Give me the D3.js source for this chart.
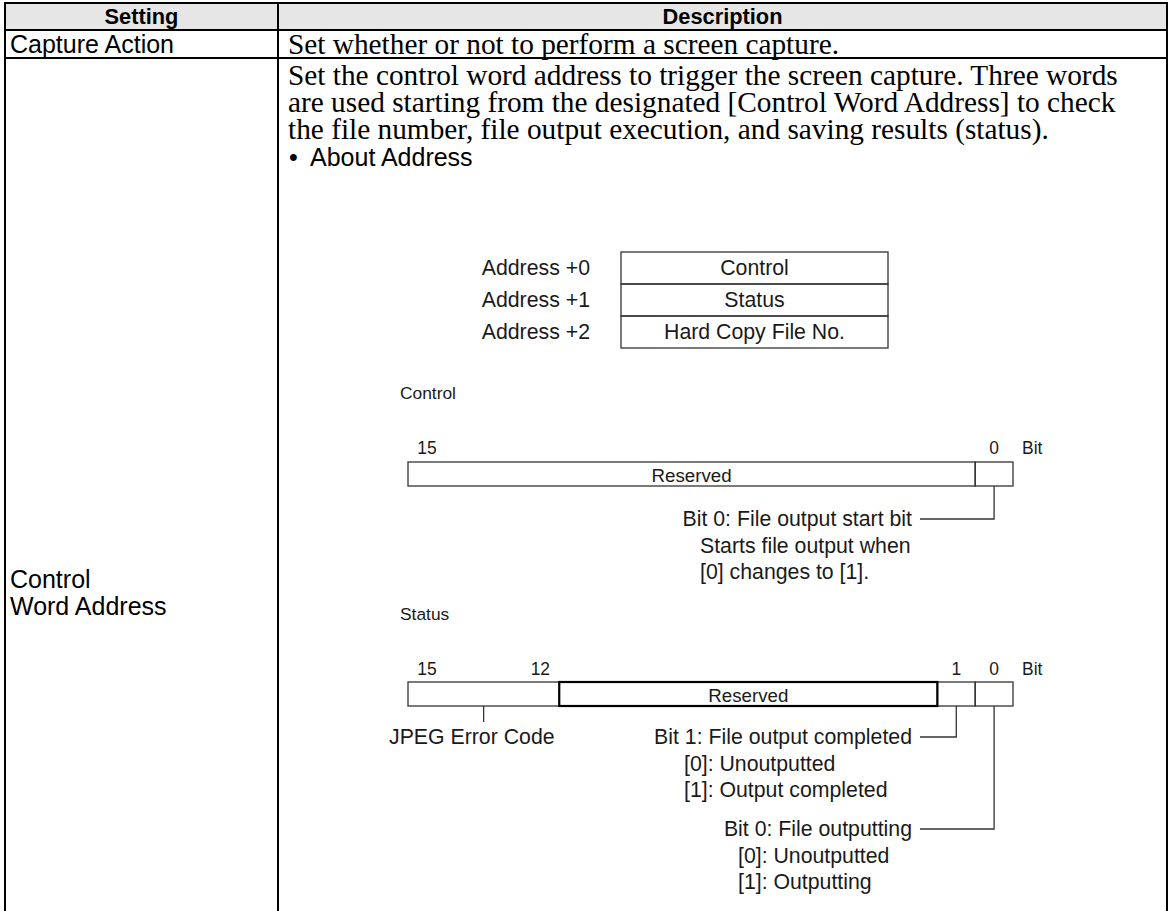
<!DOCTYPE html>
<html><head><meta charset="utf-8">
<script src="https://cdn.jsdelivr.net/npm/d3@7"></script>
<style>html,body{margin:0;padding:0;background:#fff;}svg{display:block;}</style>
</head><body>
<script>
// ---- data ----
const columns = ["Setting", "Description"];
const settings = [["Capture Action"], ["Control", "Word Address"]];
const captureDesc = ["Set whether or not to perform a screen capture."];
const controlWordDesc = [
  "Set the control word address to trigger the screen capture. Three words",
  "are used starting from the designated [Control Word Address] to check",
  "the file number, file output execution, and saving results (status)."
];
const bulletText = "About Address";
const addressLabels = ["Address +0", "Address +1", "Address +2"];
const addressWords = ["Control", "Status", "Hard Copy File No."];
const bitTicksControl = [15, 0];
const bitTicksStatus = [15, 12, 1, 0];
const controlFields = [{hi: 15, lo: 1, label: "Reserved"}, {hi: 0, lo: 0, label: ""}];
const statusFields = [{hi: 15, lo: 12, label: ""}, {hi: 11, lo: 2, label: "Reserved", strong: true}, {hi: 1, lo: 1, label: ""}, {hi: 0, lo: 0, label: ""}];
const controlNotes = [{bit: 0, title: "Bit 0: File output start bit", lines: ["Starts file output when", "[0] changes to [1]."]}];
const statusNotes = [
  {bit: 1, title: "Bit 1: File output completed", lines: ["[0]: Unoutputted", "[1]: Output completed"]},
  {bit: 0, title: "Bit 0: File outputting", lines: ["[0]: Unoutputted", "[1]: Outputting"]}
];
const jpegLabel = "JPEG Error Code";

// ---- setup ----
const W = 1172, H = 911;
const SANS = "'Liberation Sans', Arial, Helvetica, sans-serif";
const SERIF = "'Liberation Serif', 'Times New Roman', serif";
const svg = d3.select("body").append("svg").attr("width", W).attr("height", H);

function fit(str, family, weight, target) {
  const t = svg.append("text").attr("font-family", family).attr("font-weight", weight).attr("font-size", 100).text(str);
  const w = t.node().getComputedTextLength();
  t.remove();
  return 100 * target / w;
}
const headSize = fit("Description", SANS, "bold", 120);
const leftSize = fit("Capture Action", SANS, "normal", 164);
const serifSize = fit(controlWordDesc[0], SERIF, "normal", 830);
const diagSize = fit("Bit 1: File output completed", SANS, "normal", 258);
const secSize = fit("Control", SANS, "normal", 56);

// table geometry
const xL = 5, xDiv = 278, xR = 1167;
const yTop = 3, yHead = 30, yRow2 = 58;

svg.append("rect").attr("x", xL).attr("y", yTop).attr("width", xR - xL).attr("height", yHead - yTop).attr("fill", "#e6e6e6");

const lines = svg.append("g").attr("stroke", "#000").attr("stroke-width", 2).attr("fill", "none");
[[xL, yTop, xR, yTop], [xL, yHead, xR, yHead], [xL, yRow2, xR, yRow2],
 [xL, yTop - 1, xL, H + 2], [xDiv, yTop, xDiv, H + 2], [xR, yTop - 1, xR, H + 2]]
  .forEach(d => lines.append("line").attr("x1", d[0]).attr("y1", d[1]).attr("x2", d[2]).attr("y2", d[3]));

// header
const colCenters = [(xL + xDiv) / 2, (xDiv + xR) / 2];
svg.selectAll("text.head").data(columns).join("text").attr("class", "head")
  .attr("x", (d, i) => colCenters[i]).attr("y", (yTop + yHead) / 2)
  .attr("text-anchor", "middle").attr("dominant-baseline", "central")
  .attr("font-family", SANS).attr("font-weight", "bold").attr("font-size", headSize).text(d => d);

// left column
const leftYs = [[(yHead + yRow2) / 2], [579, 606]];
settings.forEach((arr, i) => arr.forEach((s, j) => {
  svg.append("text").attr("x", 10).attr("y", leftYs[i][j]).attr("dominant-baseline", "central")
    .attr("font-family", SANS).attr("font-size", leftSize).text(s);
}));

// descriptions
svg.append("text").attr("x", 288).attr("y", (yHead + yRow2) / 2).attr("dominant-baseline", "central")
  .attr("font-family", SERIF).attr("font-size", serifSize).text(captureDesc[0]);
const descY = d3.scaleLinear().domain([0, 1]).range([75, 102]);
svg.selectAll("text.desc").data(controlWordDesc).join("text").attr("class", "desc")
  .attr("x", 288).attr("y", (d, i) => descY(i)).attr("dominant-baseline", "central")
  .attr("font-family", SERIF).attr("font-size", serifSize).text(d => d);
svg.append("text").attr("x", 289).attr("y", descY(3) + 1).attr("dominant-baseline", "central")
  .attr("font-family", SANS).attr("font-size", leftSize).text("\u2022");
svg.append("text").attr("x", 310).attr("y", descY(3) + 1).attr("dominant-baseline", "central")
  .attr("font-family", SANS).attr("font-size", leftSize).text(bulletText);

// address table
const addrY = d3.scaleBand().domain(addressLabels).range([252, 348]);
const ink = "#1a1a1a";
svg.selectAll("text.alab").data(addressLabels).join("text").attr("class", "alab")
  .attr("x", 590).attr("y", d => addrY(d) + addrY.bandwidth() / 2).attr("text-anchor", "end").attr("dominant-baseline", "central")
  .attr("font-family", SANS).attr("font-size", diagSize).attr("fill", ink).text(d => d);
svg.selectAll("rect.abox").data(addressLabels).join("rect").attr("class", "abox")
  .attr("x", 621).attr("y", d => addrY(d)).attr("width", 888 - 621).attr("height", addrY.bandwidth())
  .attr("fill", "none").attr("stroke", "#333").attr("stroke-width", 1.3);
svg.selectAll("text.aword").data(addressWords).join("text").attr("class", "aword")
  .attr("x", (621 + 888) / 2).attr("y", (d, i) => addrY(addressLabels[i]) + addrY.bandwidth() / 2)
  .attr("text-anchor", "middle").attr("dominant-baseline", "central")
  .attr("font-family", SANS).attr("font-size", diagSize).attr("fill", ink).text(d => d);

// bit diagrams
const bx = d3.scaleLinear().domain([16, 0]).range([408, 1013]);
const bitCenter = b => (bx(b + 1) + bx(b)) / 2;

function register(title, titleY, ticks, tickY, fields, boxTop, notes, noteYs, jpeg) {
  const g = svg.append("g");
  g.append("text").attr("x", 400).attr("y", titleY).attr("dominant-baseline", "central")
    .attr("font-family", SANS).attr("font-size", secSize).attr("fill", ink).text(title);
  g.selectAll("text.tick").data(ticks).join("text").attr("class", "tick")
    .attr("x", d => bitCenter(d)).attr("y", tickY).attr("text-anchor", "middle").attr("dominant-baseline", "central")
    .attr("font-family", SANS).attr("font-size", diagSize * 0.82).attr("fill", ink).text(d => d);
  g.append("text").attr("x", 1022).attr("y", tickY).attr("dominant-baseline", "central")
    .attr("font-family", SANS).attr("font-size", diagSize * 0.82).attr("fill", ink).text("Bit");
  const bh = 24;
  g.selectAll("rect.f").data(fields.filter(f => !f.strong)).join("rect").attr("class", "f")
    .attr("x", d => bx(d.hi + 1)).attr("y", boxTop).attr("width", d => bx(d.lo) - bx(d.hi + 1)).attr("height", bh)
    .attr("fill", "none").attr("stroke", "#333").attr("stroke-width", 1.3);
  g.selectAll("rect.fs").data(fields.filter(f => f.strong)).join("rect").attr("class", "fs")
    .attr("x", d => bx(d.hi + 1)).attr("y", boxTop).attr("width", d => bx(d.lo) - bx(d.hi + 1)).attr("height", bh)
    .attr("fill", "none").attr("stroke", "#000").attr("stroke-width", 2.2);
  g.selectAll("text.fl").data(fields.filter(f => f.label)).join("text").attr("class", "fl")
    .attr("x", d => (bx(d.hi + 1) + bx(d.lo)) / 2).attr("y", boxTop + bh / 2 + 1)
    .attr("text-anchor", "middle").attr("dominant-baseline", "central")
    .attr("font-family", SANS).attr("font-size", diagSize * 0.88).attr("fill", ink).text(d => d.label);
  const lh = 26.5;
  notes.forEach((n, i) => {
    const ny = noteYs[i].y;
    g.append("path").attr("d", `M${bitCenter(n.bit)},${boxTop + bh}V${ny}H920`)
      .attr("fill", "none").attr("stroke", "#333").attr("stroke-width", 1.3);
    g.append("text").attr("x", 912).attr("y", ny).attr("text-anchor", "end").attr("dominant-baseline", "central")
      .attr("font-family", SANS).attr("font-size", diagSize).attr("fill", ink).text(n.title);
    n.lines.forEach((l, j) => g.append("text").attr("x", noteYs[i].x).attr("y", ny + lh * (j + 1))
      .attr("dominant-baseline", "central").attr("font-family", SANS).attr("font-size", diagSize).attr("fill", ink).text(l));
  });
  if (jpeg) {
    const f = fields[0];
    const cx = (bx(f.hi + 1) + bx(f.lo)) / 2;
    g.append("line").attr("x1", cx).attr("x2", cx).attr("y1", boxTop + bh).attr("y2", boxTop + bh + 16)
      .attr("stroke", "#333").attr("stroke-width", 1.3);
    g.append("text").attr("x", 389).attr("y", boxTop + bh + 31).attr("dominant-baseline", "central")
      .attr("font-family", SANS).attr("font-size", diagSize).attr("fill", ink).text(jpeg);
  }
}
register("Control", 393, bitTicksControl, 448, controlFields, 462, controlNotes, [{y: 519, x: 700}], null);
register("Status", 614, bitTicksStatus, 669, statusFields, 682, statusNotes, [{y: 737, x: 684}, {y: 829, x: 738}], jpegLabel);
</script>
</body></html>
